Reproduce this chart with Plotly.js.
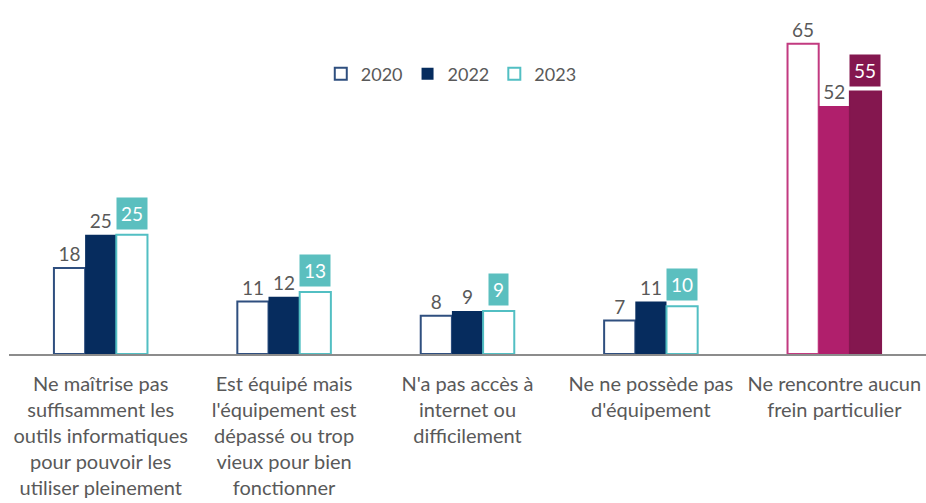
<!DOCTYPE html>
<html><head><meta charset="utf-8">
<script src="https://cdn.plot.ly/plotly-3.0.1.min.js"></script>
<style>body{margin:0;background:#fff}#c{width:926px;height:503px}</style>
</head><body><div id="c"></div>
<script>
const categories = [
  "Ne maîtrise pas<br>suffisamment les<br>outils informatiques<br>pour pouvoir les<br>utiliser pleinement",
  "Est équipé mais<br>l'équipement est<br>dépassé ou trop<br>vieux pour bien<br>fonctionner",
  "N'a pas accès à<br>internet ou<br>difficilement",
  "Ne ne possède pas<br>d'équipement",
  "Ne rencontre aucun<br>frein particulier"
];
const years = ["2020", "2022", "2023"];
const v2020 = [18, 11, 8, 7, 65];
const v2022 = [25, 12, 9, 11, 52];
const v2023 = [25, 13, 9, 10, 55];

const c2020Line = ["#2f4f7f","#2f4f7f","#2f4f7f","#2f4f7f","#c23a80"];
const c2022Fill = ["#062c5e","#062c5e","#062c5e","#062c5e","#b01f6c"];
const c2023Fill = ["#ffffff","#ffffff","#ffffff","#ffffff","#84174f"];
const c2023Line = ["#52bfc3","#52bfc3","#52bfc3","#52bfc3","#84174f"];
const c2023Box  = ["#5bbfbf","#5bbfbf","#5bbfbf","#5bbfbf","#84174f"];

const idx = categories.map((_, i) => i);
const gap = 0.49;
const bw = (1 - gap) / 3;
const font = "Lato, sans-serif";
const grey = "#595959";

const traces = [
  {type:"bar", name:years[0], x:idx, y:v2020, text:v2020.map(String), textposition:"outside",
   textfont:{size:19,color:grey,family:font}, cliponaxis:false,
   marker:{color:"#ffffff", line:{color:c2020Line, width:2}}},
  {type:"bar", name:years[1], x:idx, y:v2022, text:v2022.map(String), textposition:"outside",
   textfont:{size:19,color:grey,family:font}, cliponaxis:false,
   marker:{color:c2022Fill, line:{color:c2022Fill, width:0}}},
  {type:"bar", name:years[2], x:idx, y:v2023,
   marker:{color:c2023Fill, line:{color:c2023Line, width:2}}}
];

const annotations = v2023.map((v, i) => ({
  x: i + bw, y: v, xref:"x", yref:"y", text:String(v), showarrow:false,
  yanchor:"bottom", yshift:5, bgcolor:c2023Box[i], borderpad:4,
  font:{size:19,color:"#ffffff",family:font}
}));

const layout = {
  width:926, height:503,
  margin:{l:9, r:0, t:20, b:149},
  paper_bgcolor:"#ffffff", plot_bgcolor:"#ffffff",
  barmode:"group", bargap:gap, bargroupgap:0,
  showlegend:true,
  legend:{orientation:"h", x:0.34, xanchor:"left", y:0.838, yanchor:"middle",
    font:{size:18,color:grey,family:font}, itemwidth:20, tracegroupgap:0},
  xaxis:{type:"linear", range:[-0.5,4.5], tickvals:idx, ticktext:categories,
    showgrid:false, zeroline:false, showline:true, linecolor:"#8c8c8c", linewidth:1.5,
    ticks:"", ticklabelstandoff:11, tickfont:{size:20,color:grey,family:font}},
  yaxis:{range:[0,70], visible:false, showgrid:false, zeroline:false},
  annotations: annotations
};

Plotly.newPlot("c", traces, layout, {displayModeBar:false, staticPlot:true});
</script></body></html>
